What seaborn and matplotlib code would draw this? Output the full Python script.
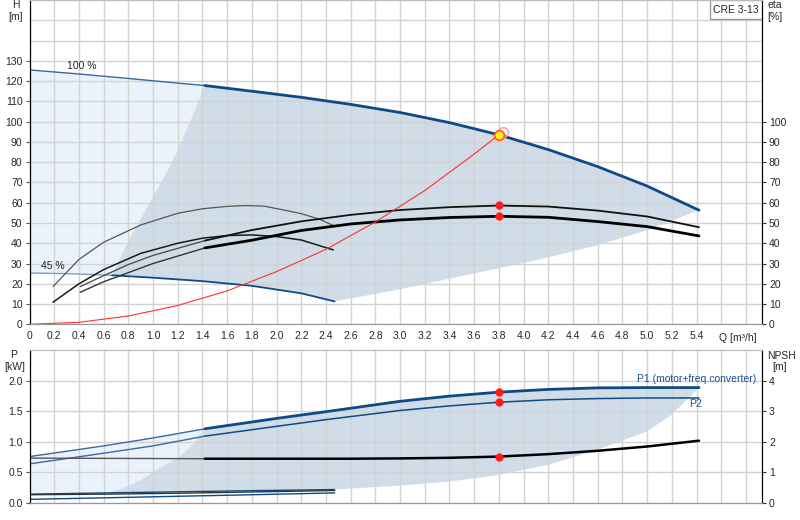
import numpy as np
import pandas as pd
import seaborn as sns
import matplotlib.pyplot as plt
from matplotlib.patches import Rectangle

# ---------------- DATA ----------------
# head curves, 100 % and 45 % speed
q_h100 = [0, 0.4, 0.8, 1.2, 1.42, 1.8, 2.2, 2.6, 3.0, 3.4, 3.8, 4.2, 4.6, 5.0, 5.42]
h_100 = [125.5, 123.5, 121.3, 119.0, 117.8, 115.0, 112.0, 108.5, 104.5, 99.5, 93.5, 86.2, 77.8, 68.2, 56.3]
q_h45 = [0, 0.3, 0.67, 1.0, 1.4, 1.8, 2.2, 2.47]
h_45 = [25.3, 25.0, 24.2, 23.0, 21.3, 19.0, 15.3, 11.3]

# edges of the operating area (head panel)
q_left = [0.67, 0.72, 0.8, 0.9, 1.0, 1.1, 1.2, 1.3, 1.42]
h_left = [24.2, 31, 41, 52, 63, 74, 86, 100, 117.8]
q_right = [2.47, 3.0, 3.4, 3.8, 4.2, 4.6, 5.0, 5.42]
h_right = [11.3, 17.3, 22.5, 27.7, 33.0, 39.0, 46.5, 56.3]

# system curve
q_sys = [0, 0.4, 0.8, 1.2, 1.6, 2.0, 2.4, 2.8, 3.2, 3.6, 3.8]
h_sys = [0, 1.0, 4.1, 9.3, 16.5, 26.0, 37.0, 50.5, 66.0, 84.0, 93.5]

# efficiency curves
q_eta100 = [0.41, 0.6, 0.8, 1.0, 1.42, 1.8, 2.2, 2.6, 3.0, 3.4, 3.8, 4.2, 4.6, 5.0, 5.42]
eta1_100 = [18.6, 24.0, 29.5, 34.0, 41.3, 46.5, 50.8, 54.0, 56.4, 57.8, 58.6, 58.1, 56.1, 53.2, 47.9]
eta2_100 = [15.8, 21.0, 25.5, 30.0, 37.7, 41.5, 46.3, 49.5, 51.5, 52.7, 53.3, 52.8, 50.7, 48.2, 43.6]
q_eta1_45 = [0.19, 0.4, 0.6, 0.9, 1.2, 1.4, 1.6, 1.75, 1.9, 2.05, 2.2, 2.35, 2.46]
eta1_45 = [18.6, 32.0, 40.5, 49.0, 54.8, 57.0, 58.2, 58.6, 58.3, 56.5, 54.6, 51.8, 48.7]
q_eta2_45 = [0.19, 0.4, 0.6, 0.9, 1.2, 1.4, 1.6, 1.8, 2.0, 2.2, 2.46]
eta2_45 = [10.9, 20.0, 27.0, 35.0, 40.0, 42.5, 43.8, 44.1, 43.3, 41.6, 36.7]

# power / NPSH curves
q_p100 = [0, 0.6, 1.0, 1.42, 2.0, 2.4, 3.0, 3.4, 3.8, 4.2, 4.6, 5.0, 5.42]
p1_100 = [0.755, 0.93, 1.06, 1.21, 1.38, 1.49, 1.66, 1.745, 1.81, 1.855, 1.88, 1.885, 1.885]
p2_100 = [0.635, 0.81, 0.93, 1.09, 1.25, 1.36, 1.51, 1.585, 1.645, 1.685, 1.705, 1.715, 1.715]
q_p45 = [0, 0.62, 1.2, 1.8, 2.47]
p1_45 = [0.14, 0.16, 0.178, 0.197, 0.215]
p2_45 = [0.055, 0.08, 0.105, 0.13, 0.16]
npsh_45 = [0.26, 0.28, 0.31, 0.35, 0.40]
q_npsh = [0, 1.42, 2.0, 2.6, 3.0, 3.4, 3.8, 4.2, 4.6, 5.0, 5.42]
npsh_100 = [1.46, 1.44, 1.44, 1.44, 1.45, 1.47, 1.51, 1.59, 1.70, 1.84, 2.03]

# edges of the operating area (power panel)
q_pleft = [0.62, 0.7, 0.79, 0.9, 1.0, 1.1, 1.22, 1.32, 1.42]
p_left = [0.16, 0.2, 0.263, 0.37, 0.5, 0.62, 0.76, 0.95, 1.21]
q_pright = [2.47, 3.0, 3.4, 3.8, 4.2, 4.6, 5.0, 5.2, 5.42]
p_right = [0.215, 0.28, 0.345, 0.455, 0.62, 0.867, 1.168, 1.44, 1.885]

# duty point
q_duty = 3.8
h_duty = 93.5
eta_duty = [58.9, 53.4]
p_duty = [1.81, 1.645]
npsh_duty = 1.51

x_ticks = [0, 0.2, 0.4, 0.6, 0.8, 1.0, 1.2, 1.4, 1.6, 1.8, 2.0, 2.2, 2.4, 2.6,
           2.8, 3.0, 3.2, 3.4, 3.6, 3.8, 4.0, 4.2, 4.4, 4.6, 4.8, 5.0, 5.2, 5.4]
x_tick_labels = ['0', '0.2', '0.4', '0.6', '0.8', '1.0', '1.2', '1.4', '1.6', '1.8',
                 '2.0', '2.2', '2.4', '2.6', '2.8', '3.0', '3.2', '3.4', '3.6', '3.8',
                 '4.0', '4.2', '4.4', '4.6', '4.8', '5.0', '5.2', '5.4']
h_ticks = [0, 10, 20, 30, 40, 50, 60, 70, 80, 90, 100, 110, 120, 130]
eta_ticks = [0, 10, 20, 30, 40, 50, 60, 70, 80, 90, 100]
p_ticks = [0.0, 0.5, 1.0, 1.5, 2.0]
p_tick_labels = ['0.0', '0.5', '1.0', '1.5', '2.0']
npsh_ticks = [0, 1, 2, 3, 4]

# ---------------- STYLE ----------------
sns.set_style("white")
plt.rcParams['font.family'] = ['Liberation Sans', 'DejaVu Sans']
plt.rcParams['font.size'] = 7.5

BLUE = '#0e4a86'
BLUE_THIN = '#3a6a9c'
DARK_AREA = '#d0dce8'
LIGHT_AREA = '#eaf3fc'
GRID = '#d2d2d2'
XMAX = 5.93

fig = plt.figure(figsize=(8, 5.2), dpi=100)
ax = fig.add_axes([0.0369, 0.3763, 0.9156, 0.6237])
axb = fig.add_axes([0.0369, 0.0333, 0.9156, 0.2936])


def curve(a, q, v, split, thin, thick):
    df = pd.DataFrame({'Q': q, 'v': v})
    sns.lineplot(data=df[df.Q <= split], x='Q', y='v', ax=a, estimator=None,
                 legend=False, **thin)
    sns.lineplot(data=df[df.Q >= split], x='Q', y='v', ax=a, estimator=None,
                 legend=False, **thick)


def area(q_top, v_top, q_r, v_r, q_bot, v_bot, q_l, v_l, lo, hi):
    """polygon: top edge lo->hi, right edge down, bottom edge back, left edge up"""
    qt, vt = np.array(q_top), np.array(v_top)
    qb, vb = np.array(q_bot), np.array(v_bot)
    m_t = (qt >= lo) & (qt <= hi)
    m_b = (qb >= q_l[0]) & (qb <= q_r[0])
    xs = list(qt[m_t]) + list(q_r[::-1]) + list(qb[m_b][::-1]) + list(q_l)
    ys = list(vt[m_t]) + list(v_r[::-1]) + list(vb[m_b][::-1]) + list(v_l)
    return xs, ys


def light_area(q_top, v_top, q_l, v_l, q_bot, v_bot):
    qt, vt = np.array(q_top), np.array(v_top)
    qb, vb = np.array(q_bot), np.array(v_bot)
    m_t = qt <= q_l[-1]
    m_b = qb <= q_l[0]
    xs = list(qt[m_t]) + list(q_l[::-1]) + list(qb[m_b][::-1])
    ys = list(vt[m_t]) + list(v_l[::-1]) + list(vb[m_b][::-1])
    return xs, ys


# ---------------- HEAD / ETA PANEL ----------------
xs, ys = light_area(q_h100, h_100, q_left, h_left, q_h45, h_45)
ax.fill(xs, ys, color=LIGHT_AREA, lw=0, zorder=0.3)
xs, ys = area(q_h100, h_100, q_right, h_right, q_h45, h_45, q_left, h_left, 1.42, 5.42)
ax.fill(xs, ys, color=DARK_AREA, lw=0, zorder=0.3)

curve(ax, q_h100, h_100, 1.42, dict(color=BLUE_THIN, lw=1.0), dict(color=BLUE, lw=2.0))
curve(ax, q_h45, h_45, 0.67, dict(color='#7f9cbd', lw=1.0), dict(color=BLUE, lw=1.3))

curve(ax, q_eta1_45, eta1_45, 9, dict(color='#555555', lw=0.9), dict(color='#555555', lw=0.9))
curve(ax, q_eta2_45, eta2_45, 9, dict(color='#1a1a1a', lw=1.1), dict(color='#1a1a1a', lw=1.1))
curve(ax, q_eta100, eta1_100, 1.42, dict(color='#444444', lw=0.9), dict(color='#111111', lw=1.3))
curve(ax, q_eta100, eta2_100, 1.42, dict(color='#333333', lw=1.0), dict(color='black', lw=2.0))

sns.lineplot(x=q_sys, y=h_sys, ax=ax, color='#ff3030', lw=0.8, estimator=None, legend=False)

sns.scatterplot(x=[q_duty] * 2, y=eta_duty, ax=ax, color='#ff1a1a', s=30,
                edgecolor='#ff1a1a', zorder=5, legend=False)
ax.plot(q_duty + 0.03, h_duty + 1.6, 'o', ms=7, mfc='none', mec='#ff9c9c', mew=1, zorder=5)
ax.plot(q_duty, h_duty, 'o', ms=7, mfc='#ffee22', mec='#ff5a1a', mew=1.2, zorder=6)

ax.text(0.30, 127.6, '100 %', ha='left', va='center', fontsize=7.5)
ax.text(0.09, 28.8, '45 %', ha='left', va='center', fontsize=7.5)

ax.set_xlim(0, XMAX)
ax.set_ylim(0, 160)
ax.set_xticks(x_ticks)
ax.set_xticklabels(x_tick_labels)
ax.set_xticks([5.6, 5.8], minor=True)
ax.set_yticks(h_ticks)
ax.set_yticks([140, 150], minor=True)
ax.set_xlabel('')
ax.set_ylabel('')
ax.grid(True, which='both', color=GRID, lw=1)
ax.set_axisbelow(True)
ax.tick_params(which='major', length=3, width=0.8, color='#555555', pad=2, labelsize=7.5)
ax.tick_params(which='minor', length=0)
ax.text(5.58, -4.5, 'Q [m\u00b3/h]', ha='left', va='top', fontsize=7.5)

ax2 = ax.twinx()
ax2.set_ylim(0, 160)
ax2.set_yticks(eta_ticks)
ax2.tick_params(length=3, width=0.8, color='#333333', pad=2, labelsize=7.5)

for a in (ax, ax2):
    a.spines['top'].set_color('#bbbbbb')
    a.spines['bottom'].set_color('#999999')
    a.spines['left'].set_color('black')
    a.spines['right'].set_color('black')

# CRE 3-13 box
ax.add_patch(Rectangle((0.929, 0.941), 0.071, 0.059, transform=ax.transAxes,
                       fc='white', ec='#999999', lw=1, zorder=7))
ax.text(0.9645, 0.9705, 'CRE 3-13', transform=ax.transAxes, ha='center', va='center',
        fontsize=7.5, zorder=8)

# ---------------- POWER / NPSH PANEL ----------------
xs, ys = light_area(q_p100, p1_100, q_pleft, p_left, q_p45, p1_45)
axb.fill(xs, ys, color=LIGHT_AREA, lw=0, zorder=0.3)
xs, ys = area(q_p100, p1_100, q_pright, p_right, q_p45, p1_45, q_pleft, p_left, 1.42, 5.42)
axb.fill(xs, ys, color=DARK_AREA, lw=0, zorder=0.3)

curve(axb, q_p100, p1_100, 1.42, dict(color=BLUE_THIN, lw=1.0), dict(color=BLUE, lw=2.0))
curve(axb, q_p100, p2_100, 1.42, dict(color=BLUE_THIN, lw=1.0), dict(color=BLUE, lw=1.1))
curve(axb, q_p45, p1_45, 9, dict(color=BLUE, lw=1.0), dict(color=BLUE, lw=1.0))
curve(axb, q_p45, p2_45, 9, dict(color=BLUE, lw=1.0), dict(color=BLUE, lw=1.0))

sns.scatterplot(x=[q_duty] * 2, y=p_duty, ax=axb, color='#ff1a1a', s=30,
                edgecolor='#ff1a1a', zorder=5, legend=False)
axb.text(4.92, 2.03, 'P1 (motor+freq.converter)', color='#1f4e8c', ha='left',
         va='center', fontsize=7.5)
axb.text(5.34, 1.62, 'P2', color='#1f4e8c', ha='left', va='center', fontsize=7.5)

axb.set_xlim(0, XMAX)
axb.set_ylim(0, 2.5)
axb.set_xticks(x_ticks)
axb.set_xticks([5.6, 5.8], minor=True)
axb.set_xticklabels([])
axb.set_yticks(p_ticks)
axb.set_yticklabels(p_tick_labels)
axb.set_xlabel('')
axb.set_ylabel('')
axb.grid(True, which='both', color=GRID, lw=1)
axb.set_axisbelow(True)
axb.tick_params(axis='x', which='both', length=0)
axb.tick_params(axis='y', length=3, width=0.8, color='#555555', pad=2, labelsize=7.5)

axb2 = axb.twinx()
curve(axb2, q_p45, npsh_45, 9, dict(color='#333333', lw=1.0), dict(color='#333333', lw=1.0))
curve(axb2, q_npsh, npsh_100, 1.42, dict(color='#555555', lw=1.0), dict(color='black', lw=1.8))
sns.scatterplot(x=[q_duty], y=[npsh_duty], ax=axb2, color='#ff1a1a', s=30,
                edgecolor='#ff1a1a', zorder=5, legend=False)
axb2.set_ylim(0, 5)
axb2.set_yticks(npsh_ticks)
axb2.set_xlim(0, XMAX)
axb2.set_xlabel('')
axb2.set_ylabel('')
axb2.tick_params(length=3, width=0.8, color='#333333', pad=2, labelsize=7.5)

for a in (axb, axb2):
    a.spines['top'].set_color('#bbbbbb')
    a.spines['bottom'].set_color('#999999')
    a.spines['left'].set_color('black')
    a.spines['right'].set_color('black')

# ---------------- AXIS TITLES ----------------
fig.text(0.020, 0.990, 'H', ha='center', va='center', fontsize=7.5)
fig.text(0.020, 0.967, '[m]', ha='center', va='center', fontsize=7.5)
fig.text(0.959, 0.990, 'eta', ha='left', va='center', fontsize=7.5)
fig.text(0.959, 0.967, '[%]', ha='left', va='center', fontsize=7.5)
fig.text(0.017, 0.317, 'P', ha='center', va='center', fontsize=7.5)
fig.text(0.018, 0.294, '[kW]', ha='center', va='center', fontsize=7.5)
fig.text(0.9595, 0.316, 'NPSH', ha='left', va='center', fontsize=7.5)
fig.text(0.975, 0.294, '[m]', ha='center', va='center', fontsize=7.5)

fig.savefig('out.png', dpi=100)
